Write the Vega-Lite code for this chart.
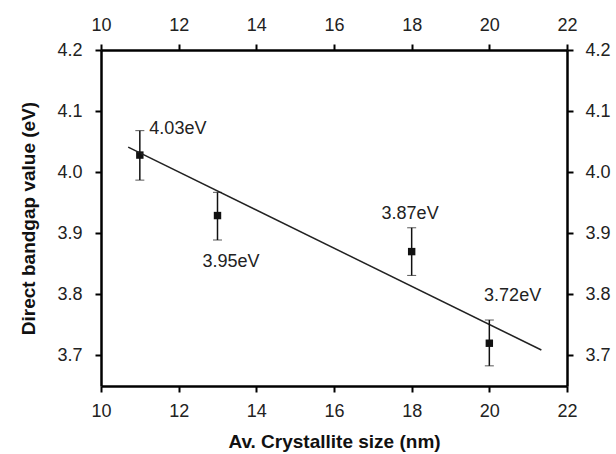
{
  "$schema": "https://vega.github.io/schema/vega-lite/v6.json",
  "autosize": "none",
  "width": 466,
  "height": 336,
  "padding": {"left": 101, "top": 50, "right": 49, "bottom": 68},
  "background": "white",
  "config": {
    "view": {"stroke": null},
    "font": "Liberation Sans"
  },
  "datasets": {
    "pts": [
      {"size": 11, "gap": 4.028, "lo": 3.987, "hi": 4.068},
      {"size": 13, "gap": 3.929, "lo": 3.889, "hi": 3.967},
      {"size": 18, "gap": 3.870, "lo": 3.831, "hi": 3.909},
      {"size": 20, "gap": 3.720, "lo": 3.683, "hi": 3.758}
    ],
    "fit": [{"x1": 10.7, "y1": 4.041, "x2": 21.34, "y2": 3.709}],
    "labels": [
      {"lx": 11.98, "ly": 4.07, "txt": "4.03eV"},
      {"lx": 13.35, "ly": 3.853, "txt": "3.95eV"},
      {"lx": 17.96, "ly": 3.932, "txt": "3.87eV"},
      {"lx": 20.6, "ly": 3.798, "txt": "3.72eV"}
    ]
  },
  "resolve": {"axis": {"x": "independent", "y": "independent"}},
  "layer": [
    {
      "data": {"name": "pts"},
      "mark": {"type": "point", "shape": "square", "filled": true, "color": "#111", "size": 55, "opacity": 1},
      "encoding": {
        "x": {"field": "size", "type": "quantitative",
          "scale": {"domain": [10, 22], "nice": false, "zero": false},
          "axis": {
            "orient": "bottom",
            "title": "Av. Crystallite size (nm)",
            "grid": false,
            "domainColor": "black", "domainWidth": 2.5,
            "tickColor": "black", "tickWidth": 2, "tickSize": 6,
            "values": [10, 12, 14, 16, 18, 20, 22],
            "labelFlush": false, "labelOverlap": false,
            "labelFont": "Liberation Sans", "labelFontSize": 18, "labelColor": "#222222",
            "labelPadding": 10,
            "titleFont": "Liberation Sans", "titleFontSize": 19, "titleFontWeight": "bold", "titleColor": "#111111",
            "titlePadding": 12
          }},
        "y": {"field": "gap", "type": "quantitative",
          "scale": {"domain": [3.65, 4.2], "nice": false, "zero": false},
          "axis": {
            "orient": "left",
            "title": "Direct bandgap value (eV)",
            "grid": false,
            "domainColor": "black", "domainWidth": 2.5,
            "tickColor": "black", "tickWidth": 2, "tickSize": 6,
            "values": [3.7, 3.8, 3.9, 4.0, 4.1, 4.2],
            "format": ".1f",
            "labelFlush": false, "labelOverlap": false,
            "labelFont": "Liberation Sans", "labelFontSize": 18, "labelColor": "#222222",
            "labelPadding": 13,
            "titleFont": "Liberation Sans", "titleFontSize": 19, "titleFontWeight": "bold", "titleColor": "#111111",
            "titlePadding": 18
          }}
      }
    },
    {
      "data": {"name": "fit"},
      "mark": {"type": "rule", "color": "#222", "strokeWidth": 1.5},
      "encoding": {
        "x": {"field": "x1", "type": "quantitative",
          "axis": {
            "orient": "top",
            "title": null,
            "grid": false,
            "domainColor": "black", "domainWidth": 2.5,
            "tickColor": "black", "tickWidth": 2, "tickSize": 6,
            "values": [10, 12, 14, 16, 18, 20, 22],
            "labelFlush": false, "labelOverlap": false,
            "labelFont": "Liberation Sans", "labelFontSize": 18, "labelColor": "#222222",
            "labelPadding": 10
          }},
        "x2": {"field": "x2"},
        "y": {"field": "y1", "type": "quantitative",
          "axis": {
            "orient": "right",
            "title": null,
            "grid": false,
            "domainColor": "black", "domainWidth": 2.5,
            "tickColor": "black", "tickWidth": 2, "tickSize": 6,
            "values": [3.7, 3.8, 3.9, 4.0, 4.1, 4.2],
            "format": ".1f",
            "labelFlush": false, "labelOverlap": false,
            "labelFont": "Liberation Sans", "labelFontSize": 18, "labelColor": "#222222",
            "labelPadding": 12
          }},
        "y2": {"field": "y2"}
      }
    },
    {
      "data": {"name": "pts"},
      "mark": {"type": "errorbar", "ticks": {"size": 9, "color": "#111", "strokeWidth": 1.5}, "rule": {"color": "#111", "strokeWidth": 1.5}},
      "encoding": {
        "x": {"field": "size", "type": "quantitative", "axis": null},
        "y": {"field": "lo", "type": "quantitative", "axis": null},
        "y2": {"field": "hi"}
      }
    },
    {
      "data": {"name": "labels"},
      "mark": {"type": "text", "fontSize": 18, "color": "#222", "font": "Liberation Sans"},
      "encoding": {
        "x": {"field": "lx", "type": "quantitative", "axis": null},
        "y": {"field": "ly", "type": "quantitative", "axis": null},
        "text": {"field": "txt"}
      }
    }
  ]
}
